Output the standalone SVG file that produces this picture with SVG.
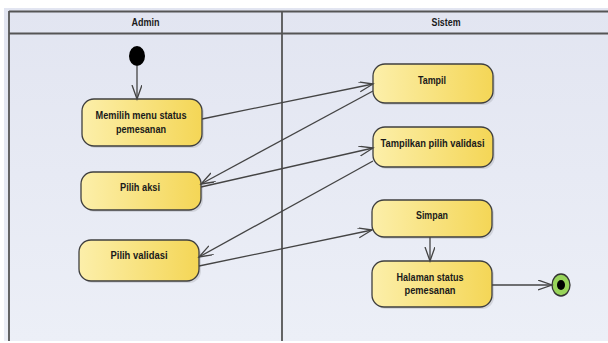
<svg xmlns="http://www.w3.org/2000/svg" width="608" height="343" viewBox="0 0 608 343">
  <defs>
    <linearGradient id="laneBg" x1="0" y1="0" x2="0" y2="1">
      <stop offset="0" stop-color="#e2e5f1"/>
      <stop offset="1" stop-color="#eceff7"/>
    </linearGradient>
    <linearGradient id="actFill" x1="0" y1="0" x2="1" y2="0">
      <stop offset="0" stop-color="#fcefaa"/>
      <stop offset="1" stop-color="#f4d656"/>
    </linearGradient>
    <marker id="open" markerUnits="userSpaceOnUse" markerWidth="16" markerHeight="12" refX="14" refY="5" orient="auto">
      <path d="M0,0 L14,5 L0,10" fill="none" stroke="#444" stroke-width="1.3"/>
    </marker>
  </defs>
  <style>
    .lane { stroke: #555; stroke-width: 1.8; fill: none; }
    .hdr { font-family: "Liberation Sans", Arial, sans-serif; font-weight: bold; font-size: 10.5px; fill: #1a1a1a; text-anchor: middle; }
    .shadow { fill: #000; opacity: 0.1; }
    .act { fill: url(#actFill); stroke: #3f3f3f; stroke-width: 1.3; }
    .lbl { font-family: "Liberation Sans", Arial, sans-serif; font-weight: bold; font-size: 11px; fill: #1a1a1a; text-anchor: middle; }
    .flow { stroke: #444; stroke-width: 1.3; fill: none; marker-end: url(#open); }
  </style>

  <rect x="0" y="0" width="608" height="343" fill="#ffffff"/>

  <!-- swimlanes -->
  <g id="lanes">
    <rect x="4" y="8" width="604" height="333" fill="url(#laneBg)"/>
    <line class="lane" x1="9" y1="11.5" x2="608" y2="11.5"/>
    <line class="lane" x1="9" y1="33.5" x2="608" y2="33.5"/>
    <line class="lane" x1="9" y1="11" x2="9" y2="341"/>
    <line class="lane" x1="282" y1="11" x2="282" y2="341"/>
    <text class="hdr" x="145.5" y="26" textLength="28" lengthAdjust="spacingAndGlyphs">Admin</text>
    <text class="hdr" x="446" y="26" textLength="29" lengthAdjust="spacingAndGlyphs">Sistem</text>
  </g>

  <!-- initial node -->
  <g id="start">
    <ellipse cx="137" cy="56" rx="8" ry="10" fill="#000"/>
  </g>

  <!-- Admin activities -->
  <g id="memilih-menu">
    <rect class="shadow" x="84" y="101" width="120" height="47" rx="12"/>
    <rect class="act" x="82" y="99" width="120" height="47" rx="12"/>
    <text class="lbl" x="141" y="119.3" textLength="91" lengthAdjust="spacingAndGlyphs">Memilih menu status</text>
    <text class="lbl" x="141" y="132.7" textLength="50" lengthAdjust="spacingAndGlyphs">pemesanan</text>
  </g>
  <g id="pilih-aksi">
    <rect class="shadow" x="83" y="174" width="120" height="38" rx="12"/>
    <rect class="act" x="81" y="172" width="120" height="38" rx="12"/>
    <text class="lbl" x="140" y="190.7" textLength="40" lengthAdjust="spacingAndGlyphs">Pilih aksi</text>
  </g>
  <g id="pilih-validasi">
    <rect class="shadow" x="81" y="242" width="120" height="41" rx="12"/>
    <rect class="act" x="79" y="240" width="120" height="41" rx="12"/>
    <text class="lbl" x="139" y="259" textLength="57" lengthAdjust="spacingAndGlyphs">Pilih validasi</text>
  </g>

  <!-- Sistem activities -->
  <g id="tampil">
    <rect class="shadow" x="375" y="66" width="120" height="39" rx="12"/>
    <rect class="act" x="373" y="64" width="120" height="39" rx="12"/>
    <text class="lbl" x="432" y="84" textLength="28" lengthAdjust="spacingAndGlyphs">Tampil</text>
  </g>
  <g id="tampilkan-pilih-validasi">
    <rect class="shadow" x="375" y="129" width="120" height="40" rx="12"/>
    <rect class="act" x="373" y="127" width="120" height="40" rx="12"/>
    <text class="lbl" x="432.5" y="146.7" textLength="104" lengthAdjust="spacingAndGlyphs">Tampilkan pilih validasi</text>
  </g>
  <g id="simpan">
    <rect class="shadow" x="374" y="202" width="120" height="37" rx="12"/>
    <rect class="act" x="372" y="200" width="120" height="37" rx="12"/>
    <text class="lbl" x="432" y="219" textLength="32" lengthAdjust="spacingAndGlyphs">Simpan</text>
  </g>
  <g id="halaman-status">
    <rect class="shadow" x="374" y="263" width="120" height="46" rx="12"/>
    <rect class="act" x="372" y="261" width="120" height="46" rx="12"/>
    <text class="lbl" x="430" y="280.7" textLength="67" lengthAdjust="spacingAndGlyphs">Halaman status</text>
    <text class="lbl" x="430" y="294" textLength="51" lengthAdjust="spacingAndGlyphs">pemesanan</text>
  </g>

  <!-- final node -->
  <g id="end">
    <ellipse cx="561" cy="285" rx="9" ry="11" fill="#98d45a" stroke="#333" stroke-width="1.3"/>
    <ellipse cx="561" cy="285" rx="4" ry="5" fill="#000"/>
  </g>

  <!-- control flows -->
  <g id="connectors">
    <line class="flow" x1="137" y1="66" x2="137" y2="99"/>
    <line class="flow" x1="202" y1="119" x2="373" y2="84"/>
    <line class="flow" x1="373" y1="91" x2="201" y2="184"/>
    <line class="flow" x1="201" y1="187" x2="373" y2="148"/>
    <line class="flow" x1="373" y1="161" x2="199" y2="257"/>
    <line class="flow" x1="199" y1="266" x2="372" y2="230"/>
    <line class="flow" x1="430" y1="237" x2="430" y2="261"/>
    <line class="flow" x1="492" y1="285" x2="552" y2="285"/>
  </g>
</svg>
